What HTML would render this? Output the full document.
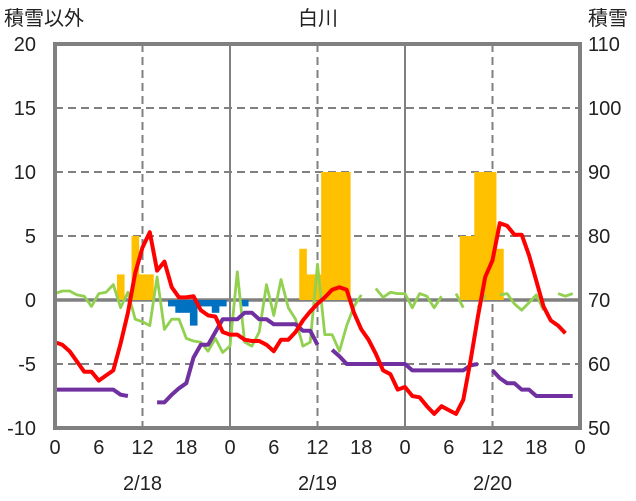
<!DOCTYPE html>
<html><head><meta charset="utf-8"><style>
body{margin:0;background:#fff}
svg{display:block;font-family:"Liberation Sans","Noto Sans CJK JP",sans-serif}
</style></head><body>
<svg id="chart" width="636" height="501" viewBox="0 0 636 501" xmlns="http://www.w3.org/2000/svg">
<g id="grid"></g>
<g id="bars"></g>
<g id="lines"></g>
<g id="frame"></g>
<g id="labels" font-size="20" fill="#222"></g>
<text x="4" y="25" font-size="20" fill="#222">積雪以外</text>
<text x="318" y="25" font-size="20" fill="#222" text-anchor="middle">白川</text>
<text x="588" y="25" font-size="20" fill="#222">積雪</text>
</svg>
<script>
const leftTicks=[20,15,10,5,0,-5,-10];
const rightTicks=[110,100,90,80,70,60,50];
const xTickLabels=[0,6,12,18,0,6,12,18,0,6,12,18,0];
const dateLabels=["2/18","2/19","2/20"];
const redSeries=[-3.3,-3.5,-4.0,-4.8,-5.6,-5.6,-6.3,-5.9,-5.5,-3.4,-1.0,2.1,4.1,5.3,2.3,3.0,1.0,0.2,0.2,0.3,-0.8,-1.2,-1.3,-2.5,-2.7,-2.7,-3.1,-3.2,-3.2,-3.5,-4.0,-3.1,-3.1,-2.5,-1.6,-0.9,-0.3,0.2,0.8,1.0,0.8,-1.0,-2.3,-3.1,-4.2,-5.5,-5.8,-7.0,-6.8,-7.5,-7.6,-8.3,-8.9,-8.3,-8.6,-8.9,-7.8,-4.7,-1.3,1.8,3.1,6.0,5.8,5.1,5.1,3.5,1.5,-0.5,-1.6,-2.0,-2.6];
const greenSeries=[0.5,0.7,0.7,0.4,0.3,-0.5,0.5,0.6,1.2,-0.6,0.6,-1.5,-1.7,-2.0,1.8,-2.3,-1.5,-1.5,-3.0,-3.2,-3.3,-4.0,-3.0,-4.1,-3.6,2.2,-3.3,-3.6,-2.5,1.2,-1.2,1.6,-0.6,-1.5,-3.6,-3.3,2.8,-2.7,-2.7,-4.0,-2.0,-0.5,0.4,null,0.9,0.2,0.6,0.5,0.5,-0.6,0.5,0.3,-0.6,0.3,null,0.5,-0.6,null,-0.6,0.4,null,0.4,0.5,-0.3,-0.8,-0.2,0.4,-0.8,null,0.5,0.3,0.5];
const purpleSeries=[-7,-7,-7,-7,-7,-7,-7,-7,-7,-7.4,-7.5,null,null,null,-8,-8,-7.4,-6.9,-6.5,-4.5,-3.5,-3.5,-2.5,-1.5,-1.5,-1.5,-1.0,-1.0,-1.5,-1.5,-1.9,-1.9,-1.9,-1.9,-2.4,-2.4,-3.5,null,-3.9,-4.4,-5,-5,-5,-5,-5,-5,-5,-5,-5,-5.5,-5.5,-5.5,-5.5,-5.5,-5.5,-5.5,-5.5,-5.1,-5.0,null,-5.5,-6.1,-6.5,-6.5,-7,-7,-7.5,-7.5,-7.5,-7.5,-7.5,-7.5];
const snowBars=[0,0,0,0,0,0,0,0,0,2,0,5,2,2,0,0,0,0,0,0,0,0,0,0,0,0,0,0,0,0,0,0,0,0,4,2,2,10,10,10,10,0,0,0,0,0,0,0,0,0,0,0,0,0,0,0,5,5,10,10,10,4,0,0,0,0,0,0,0,0,0,0];
const blueBars=[0,0,0,0,0,0,0,0,0,0,0,0,0,0,0,0,-0.5,-1,-1,-2,-0.5,-0.5,-1,-0.5,0,0,-0.5,0,0,0,0,0,0,0,0,0,0,0,0,0,0,0,0,0,0,0,0,0,0,0,0,0,0,0,0,0,0,0,0,0,0,0,0,0,0,0,0,0,0,0,0,0];

const L=55,R=580,T=44,B=428,HOURS=72;
const x=h=>L+h*(R-L)/HOURS;
const y=v=>T+(20-v)*(B-T)/30;
const NS="http://www.w3.org/2000/svg";
function mk(tag,parent,attrs){const e=document.createElementNS(NS,tag);for(const k in attrs)e.setAttribute(k,attrs[k]);parent.appendChild(e);return e;}
const grid=document.getElementById('grid'),bars=document.getElementById('bars'),lines=document.getElementById('lines'),frame=document.getElementById('frame'),labels=document.getElementById('labels');
leftTicks.forEach(v=>{if(v===20||v===-10||v===0)return;
 const g=mk('line',grid,{x1:L,x2:R,y1:y(v),y2:y(v),stroke:'#808080','stroke-width':2,'stroke-dasharray':'8,5'});
 
 });
for(let d=0;d<3;d++){
 const g=mk('line',grid,{x1:x(d*24+12),x2:x(d*24+12),y1:T,y2:B,stroke:'#808080','stroke-width':2,'stroke-dasharray':'8,5'});
 
 
 if(d>0){const s=mk('line',grid,{x1:x(d*24),x2:x(d*24),y1:T,y2:B,stroke:'#808080','stroke-width':2});
 
 }
}
const bw=(R-L)/HOURS;
snowBars.forEach((v,i)=>{if(!v)return;
 const r=mk('rect',bars,{x:x(i)-bw/2,y:y(v),width:bw+0.3,height:y(0)-y(v),fill:'#ffc000'});
 
 });
blueBars.forEach((v,i)=>{if(!v)return;
 const r=mk('rect',bars,{x:x(i)-bw/2,y:y(0),width:bw+0.3,height:y(v)-y(0),fill:'#0070c0'});
 
 });
const zl=mk('line',grid,{x1:L,x2:R,y1:y(0),y2:y(0),stroke:'#808080','stroke-width':3.5});


function drawLine(data,color,w,name){
 let d='',pen=false;
 data.forEach((v,i)=>{if(v===null){pen=false;return;}d+=(pen?'L':'M')+x(i).toFixed(1)+' '+y(v).toFixed(1)+' ';pen=true;});
 const p=mk('path',lines,{d:d,fill:'none',stroke:color,'stroke-width':w,'stroke-linejoin':'round'});
 
 
}
drawLine(greenSeries,'#92d050',2.8,'green-series');
drawLine(purpleSeries,'#7030a0',4,'purple-series');
drawLine(redSeries,'#ff0000',4,'temperature-series');
const fr=mk('rect',frame,{x:L,y:T,width:R-L,height:B-T,fill:'none',stroke:'#808080','stroke-width':4});


leftTicks.forEach(v=>{const t=mk('text',labels,{x:36,y:y(v)+7,'text-anchor':'end'});t.textContent=v;
 
 });
rightTicks.forEach((v,i)=>{const t=mk('text',labels,{x:588,y:y(leftTicks[i])+7});t.textContent=v;
 
 });
xTickLabels.forEach((v,i)=>{const t=mk('text',labels,{x:x(i*6),y:454,'text-anchor':'middle'});t.textContent=v;
 
 });
dateLabels.forEach((v,i)=>{const t=mk('text',labels,{x:x(i*24+12),y:490,'text-anchor':'middle'});t.textContent=v;
 
 });
</script>
</body></html>
